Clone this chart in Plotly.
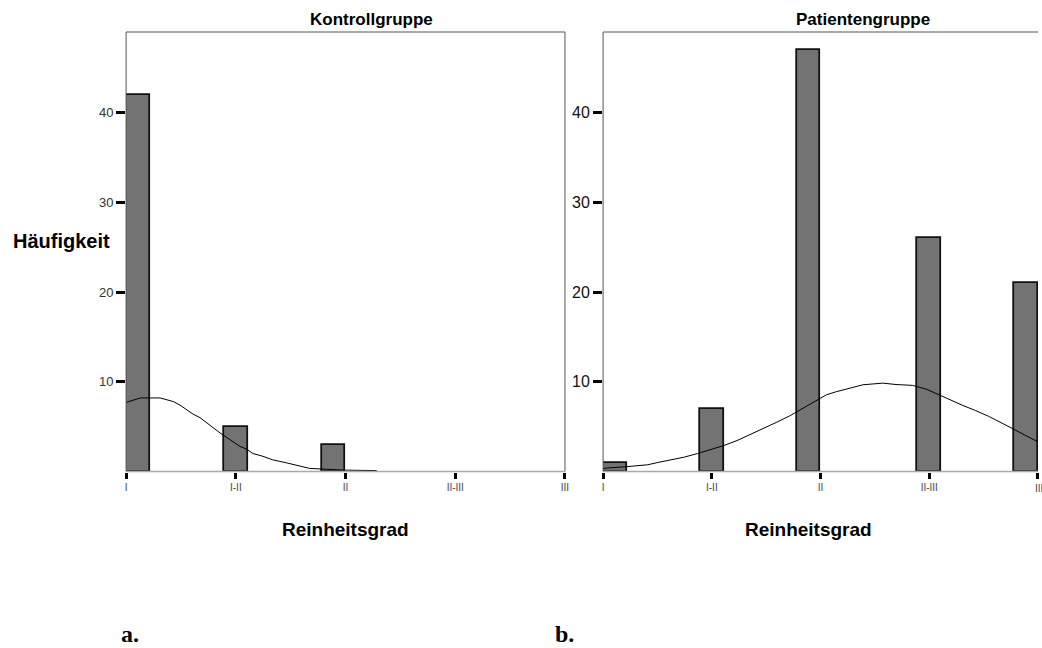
import plotly.graph_objects as go

# ---------------- data ----------------
tick_vals = [1, 1.5, 2, 2.5, 3]
tick_text = ["I", "I-II", "II", "II-III", "III"]
y_ticks = [10, 20, 30, 40]

# Kontrollgruppe
ctrl_bin_x = [1.0545, 1.5, 1.9455]
ctrl_counts = [42, 5, 3]
ctrl_curve_x = [1.0, 1.04, 1.065, 1.155, 1.186, 1.215, 1.246, 1.276, 1.305, 1.337,
                1.367, 1.396, 1.428, 1.458, 1.487, 1.519, 1.549, 1.578, 1.623, 1.668,
                1.73, 1.79, 1.836, 1.91, 2.0, 2.14, 2.145, 3.0]
ctrl_curve_y = [7.7, 8.0, 8.2, 8.2, 8.0, 7.8, 7.4, 6.9, 6.4, 6.0,
                5.4, 4.9, 4.3, 3.8, 3.3, 2.8, 2.5, 2.0, 1.7, 1.3,
                0.97, 0.6, 0.35, 0.25, 0.15, 0.1, 0.0, 0.0]

# Patientengruppe
pat_bin_x = [1.0545, 1.5, 1.9455, 2.5, 2.9455]
pat_counts = [1, 7, 47, 26, 21]
pat_curve_x = [1.0, 1.014, 1.114, 1.205, 1.251, 1.311, 1.373, 1.434, 1.493, 1.556,
               1.616, 1.676, 1.738, 1.799, 1.858, 1.921, 1.982, 2.027, 2.073, 2.132,
               2.195, 2.286, 2.347, 2.423, 2.484, 2.545, 2.59, 2.651, 2.712, 2.773,
               2.834, 2.895, 2.956, 3.0]
pat_curve_y = [0.3, 0.38, 0.55, 0.75, 1.0, 1.3, 1.6, 2.0, 2.4, 2.9,
               3.45, 4.1, 4.75, 5.5, 6.2, 7.1, 7.95, 8.55, 8.9, 9.3,
               9.67, 9.85, 9.7, 9.6, 9.2, 8.55, 8.05, 7.4, 6.8, 6.15,
               5.4, 4.6, 3.8, 3.3]

# ---------------- layout helpers ----------------
W, H = 1042, 648
def px(x):
    return x / W
def py(y):
    return 1 - y / H

BAR_W = 0.109
BAR_FILL = "#737373"
FONT = "Liberation Sans, Arial, sans-serif"

fig = go.Figure()

fig.add_trace(go.Bar(x=ctrl_bin_x, y=ctrl_counts, width=BAR_W, xaxis="x", yaxis="y",
                     marker=dict(color=BAR_FILL, line=dict(color="#111111", width=1.8)),
                     showlegend=False))
fig.add_trace(go.Scatter(x=ctrl_curve_x, y=ctrl_curve_y, mode="lines", xaxis="x", yaxis="y",
                         line=dict(color="black", width=1), showlegend=False))
fig.add_trace(go.Bar(x=pat_bin_x, y=pat_counts, width=BAR_W, xaxis="x2", yaxis="y2",
                     marker=dict(color=BAR_FILL, line=dict(color="#111111", width=1.8)),
                     showlegend=False))
fig.add_trace(go.Scatter(x=pat_curve_x, y=pat_curve_y, mode="lines", xaxis="x2", yaxis="y2",
                         line=dict(color="black", width=1), showlegend=False))

L0, L1 = 125.7, 566.7
R0, R1 = 605.0, 1042.0
TOP, BOT = 32.0, 471.5
YMAX = 49

xax = dict(range=[1, 3], tickvals=tick_vals, ticktext=tick_text, ticks="outside",
           ticklen=6, tickwidth=3, tickcolor="black", showgrid=False, zeroline=False,
           showline=False, tickfont=dict(family=FONT, size=10, color="#444444"),
           fixedrange=True)
fig.update_layout(
    width=W, height=H, margin=dict(l=0, r=0, t=0, b=0),
    paper_bgcolor="white", plot_bgcolor="white", bargap=0,
    xaxis=dict(xax, domain=[px(L0), px(L1)], anchor="y"),
    xaxis2=dict(xax, domain=[px(R0), px(R1)], anchor="y2"),
    yaxis=dict(domain=[py(BOT), py(TOP)], range=[0, YMAX], tickvals=y_ticks,
               ticks="outside", ticklen=9, tickwidth=3, tickcolor="black",
               showgrid=False, zeroline=False, showline=False, anchor="x",
               tickfont=dict(family=FONT, size=13, color="#333333")),
    yaxis2=dict(domain=[py(BOT), py(TOP)], range=[0, YMAX], tickvals=y_ticks,
                ticks="outside", ticklen=9, tickwidth=3, tickcolor="black",
                showgrid=False, zeroline=False, showline=False, anchor="x2",
                tickfont=dict(family=FONT, size=16, color="#111111")),
)

# frame lines
dark = dict(color="#555555", width=1)
light = dict(color="#aaaaaa", width=1.5)
shapes = [
    dict(type="line", xref="paper", yref="paper", x0=px(L0), x1=px(L0), y0=py(BOT), y1=py(TOP), line=dark),
    dict(type="line", xref="paper", yref="paper", x0=px(L0), x1=px(L1), y0=py(TOP), y1=py(TOP), line=dark),
    dict(type="line", xref="paper", yref="paper", x0=px(L1), x1=px(L1), y0=py(BOT), y1=py(TOP), line=dark),
    dict(type="line", xref="paper", yref="paper", x0=px(L0), x1=px(L1), y0=py(BOT), y1=py(BOT), line=light),
    dict(type="line", xref="paper", yref="paper", x0=px(R0), x1=px(R0), y0=py(BOT), y1=py(TOP), line=dark),
    dict(type="line", xref="paper", yref="paper", x0=px(R0), x1=px(R1), y0=py(TOP), y1=py(TOP), line=dark),
    dict(type="line", xref="paper", yref="paper", x0=px(R0), x1=px(R1), y0=py(BOT), y1=py(BOT), line=light),
]
fig.update_layout(shapes=shapes)

def ann(text, x, y, size, xanchor="center", family=FONT, color="black"):
    return dict(text=text, x=px(x), y=py(y), xref="paper", yref="paper", showarrow=False,
                xanchor=xanchor, yanchor="middle", font=dict(family=family, size=size, color=color))

serif = "Liberation Serif, Times New Roman, serif"
fig.update_layout(annotations=[
    ann("<b>Kontrollgruppe</b>", 372, 19, 17),
    ann("<b>Patientengruppe</b>", 866, 19, 17),
    ann("<b>Häufigkeit</b>", 112, 241, 20, xanchor="right"),
    ann("<b>Reinheitsgrad</b>", 346, 529, 19),
    ann("<b>Reinheitsgrad</b>", 811, 529, 19),
    ann("<b>a.</b>", 130, 634, 24, family=serif),
    ann("<b>b.</b>", 566, 634, 24, family=serif),
    # last tick label of the right panel, clipped by the page edge as in the original
    ann(tick_text[-1], 1043, 488, 10, color="#444444"),
])

fig.write_html("out.html")
